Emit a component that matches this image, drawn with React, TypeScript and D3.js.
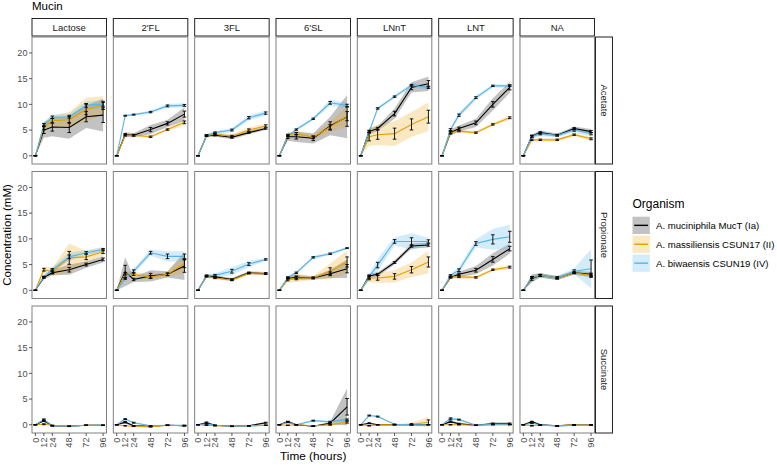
import * as d3 from 'd3';

const TIMES = [0, 12, 24, 48, 72, 96];
const SUBSTRATES = ['Lactose', "2'FL", '3FL', "6'SL", 'LNnT', 'LNT', 'NA'];
const ACIDS = ['Acetate', 'Propionate', 'Succinate'];
const ORGANISMS = ['A. muciniphila MucT (Ia)', 'A. massiliensis CSUN17 (II)', 'A. biwaensis CSUN19 (IV)'];
const LINE_COLORS = ['#000000', '#E69F00', '#56B4E9'];
const RIBBON_FILLS = ['rgba(0,0,0,0.24)', 'rgba(230,159,0,0.24)', 'rgba(86,180,233,0.26)'];
const Y_TICKS = [0, 5, 10, 15, 20];
const REPLICATES = 5;

// concentrations (mM), [substrate][organism][timepoint]
const acetateMean = [
  [[0, 5.0, 5.6, 5.5, 7.6, 7.9], [0, 5.5, 6.8, 7.0, 9.0, 9.8], [0, 6.0, 7.5, 7.6, 9.8, 10.0]],
  [[0, 4.1, 4.0, 5.1, 6.3, 8.1], [0, 4.0, 4.0, 3.7, 5.1, 6.5], [0, 7.8, 8.0, 8.5, 9.7, 9.8]],
  [[0, 3.9, 4.0, 3.6, 4.5, 5.3], [0, 3.9, 4.2, 3.8, 5.0, 5.8], [0, 4.0, 4.5, 5.0, 7.4, 8.3]],
  [[0, 3.7, 3.7, 3.4, 5.8, 7.6], [0, 4.0, 4.3, 3.6, 5.6, 7.7], [0, 3.8, 5.1, 7.2, 10.3, 9.8]],
  [[0, 4.7, 5.3, 8.2, 13.3, 14.0], [0, 3.7, 4.1, 4.3, 6.1, 7.6], [0, 4.7, 9.2, 11.5, 13.7, 13.3]],
  [[0, 4.5, 5.3, 6.4, 10.0, 13.3], [0, 4.5, 4.8, 4.5, 6.1, 7.4], [0, 5.1, 7.9, 11.3, 13.6, 13.6]],
  [[0, 3.8, 4.5, 4.0, 5.3, 4.7], [0, 3.1, 3.1, 3.1, 4.1, 3.3], [0, 3.8, 4.3, 4.0, 5.0, 4.3]],
];
const acetateSd = [
  [[0, 1.5, 1.8, 2.2, 2.2, 3.2], [0, 1.0, 1.0, 1.5, 2.3, 1.8], [0, 0.6, 0.5, 0.6, 0.8, 0.8]],
  [[0, 0.5, 0.4, 0.9, 0.7, 1.3], [0, 0.3, 0.3, 0.3, 0.3, 0.6], [0, 0.2, 0.2, 0.3, 0.4, 0.4]],
  [[0, 0.3, 0.3, 0.4, 0.3, 0.3], [0, 0.3, 0.4, 0.4, 0.5, 0.5], [0, 0.2, 0.3, 0.4, 0.5, 0.5]],
  [[0, 0.8, 1.0, 1.0, 1.8, 4.2], [0, 0.4, 0.5, 0.5, 1.0, 2.0], [0, 0.2, 0.3, 0.3, 0.6, 0.5]],
  [[0, 0.6, 0.5, 1.0, 1.0, 1.4], [0, 1.8, 2.0, 2.4, 2.4, 2.8], [0, 0.3, 0.3, 0.3, 0.4, 0.5]],
  [[0, 0.6, 0.6, 0.8, 1.2, 1.1], [0, 0.3, 0.3, 0.3, 0.3, 0.4], [0, 0.4, 0.5, 0.4, 0.3, 0.3]],
  [[0, 0.3, 0.4, 0.3, 0.4, 0.5], [0, 0.3, 0.3, 0.3, 0.3, 0.4], [0, 0.5, 0.5, 0.4, 0.5, 0.5]],
];

const propionateMean = [
  [[0, 2.5, 3.4, 4.0, 5.0, 6.0], [0, 4.0, 3.6, 6.3, 6.5, 7.5], [0, 2.6, 4.0, 6.5, 7.3, 7.9]],
  [[0, 3.6, 2.1, 2.8, 3.1, 4.7], [0, 3.2, 3.1, 2.6, 3.1, 5.2], [0, 2.3, 3.7, 7.3, 6.6, 6.6]],
  [[0, 2.8, 2.6, 2.1, 3.4, 3.2], [0, 2.7, 2.4, 2.0, 3.3, 3.3], [0, 2.8, 2.9, 3.7, 5.1, 6.0]],
  [[0, 2.3, 2.5, 2.4, 3.2, 4.2], [0, 2.1, 2.4, 2.4, 3.7, 5.5], [0, 2.5, 3.4, 6.4, 7.1, 8.2]],
  [[0, 2.8, 3.1, 5.4, 8.6, 8.8], [0, 2.4, 2.4, 2.7, 4.0, 5.5], [0, 2.6, 4.9, 9.5, 9.5, 9.5]],
  [[0, 2.5, 3.1, 3.9, 6.0, 8.1], [0, 2.6, 2.6, 2.5, 4.0, 4.5], [0, 2.9, 3.9, 9.1, 9.9, 10.4]],
  [[0, 2.3, 2.9, 2.4, 3.4, 3.1], [0, 2.5, 2.9, 2.4, 3.4, 2.9], [0, 2.5, 2.9, 2.4, 3.7, 4.2]],
];
const propionateSd = [
  [[0, 0.4, 0.5, 1.0, 0.6, 0.6], [0, 0.6, 0.8, 2.8, 1.2, 0.8], [0, 0.3, 0.5, 0.8, 0.5, 0.5]],
  [[0, 2.8, 0.5, 1.1, 0.6, 2.7], [0, 0.5, 0.5, 0.5, 0.5, 1.8], [0, 0.4, 0.6, 0.6, 1.0, 1.0]],
  [[0, 0.3, 0.3, 0.3, 0.3, 0.3], [0, 0.3, 0.3, 0.3, 0.3, 0.3], [0, 0.3, 0.4, 0.8, 0.6, 0.3]],
  [[0, 0.3, 0.5, 0.3, 0.8, 1.8], [0, 0.6, 0.8, 0.4, 1.5, 2.2], [0, 0.3, 0.3, 0.3, 0.3, 0.2]],
  [[0, 0.4, 0.4, 0.4, 0.5, 0.5], [0, 0.8, 1.0, 1.2, 1.4, 2.2], [0, 0.6, 1.2, 0.8, 1.6, 0.7]],
  [[0, 0.3, 0.5, 0.8, 1.2, 1.0], [0, 0.3, 0.3, 0.3, 0.3, 0.4], [0, 0.3, 0.6, 0.8, 2.0, 2.4]],
  [[0, 0.8, 0.4, 0.4, 0.4, 0.5], [0, 0.4, 0.4, 0.4, 0.3, 0.5], [0, 0.3, 0.4, 0.4, 0.6, 3.8]],
];

const succinateMean = [
  [[0, 0.8, -0.2, -0.3, -0.1, -0.1], [0, 0.1, -0.1, -0.3, -0.1, -0.1], [0, 1.0, -0.2, -0.3, -0.1, -0.1]],
  [[0, 0.5, -0.2, -0.3, -0.1, -0.2], [0, -0.2, -0.3, -0.4, -0.1, -0.2], [0, 1.1, 0.4, -0.2, -0.1, -0.1]],
  [[0, 0.4, -0.1, -0.3, -0.2, 0.4], [0, -0.1, -0.2, -0.3, -0.2, -0.1], [0, 0.2, -0.1, -0.3, -0.2, -0.1]],
  [[0, 0.6, 0.0, -0.3, 0.3, 3.5], [0, -0.1, 0.0, -0.2, 0.0, 0.5], [0, 0.5, 0.0, 0.8, 0.6, 1.0]],
  [[0, 0.3, 0.0, 0.0, 0.0, 0.0], [0, -0.2, 0.0, 0.0, 0.1, 0.5], [0, 1.8, 1.6, 0.1, 0.0, 0.0]],
  [[0, 0.6, 0.2, -0.1, 0.2, 0.2], [0, 0.0, 0.0, -0.1, 0.0, 0.0], [0, 1.2, 1.0, -0.1, 0.1, 0.1]],
  [[0, 0.6, 0.0, -0.2, 0.0, 0.0], [0, -0.2, -0.1, -0.2, 0.0, 0.0], [0, 0.3, 0.0, -0.3, -0.1, -0.1]],
];
const succinateSd = [
  [[0, 0.3, 0.1, 0.1, 0.1, 0.1], [0, 0.2, 0.1, 0.1, 0.1, 0.1], [0, 0.3, 0.1, 0.1, 0.1, 0.1]],
  [[0, 0.3, 0.1, 0.1, 0.1, 0.1], [0, 0.1, 0.1, 0.1, 0.1, 0.1], [0, 0.2, 0.2, 0.1, 0.1, 0.1]],
  [[0, 0.3, 0.1, 0.1, 0.1, 0.2], [0, 0.1, 0.1, 0.1, 0.1, 0.1], [0, 0.2, 0.1, 0.1, 0.1, 0.1]],
  [[0, 0.2, 0.1, 0.1, 0.3, 3.6], [0, 0.1, 0.1, 0.1, 0.2, 0.4], [0, 0.2, 0.1, 0.2, 0.2, 0.3]],
  [[0, 0.2, 0.1, 0.1, 0.1, 0.1], [0, 0.1, 0.1, 0.1, 0.3, 1.0], [0, 0.2, 0.2, 0.1, 0.1, 0.1]],
  [[0, 0.3, 0.2, 0.1, 0.3, 0.3], [0, 0.1, 0.1, 0.1, 0.1, 0.1], [0, 0.3, 0.2, 0.1, 0.1, 0.1]],
  [[0, 0.2, 0.1, 0.1, 0.1, 0.1], [0, 0.1, 0.1, 0.1, 0.1, 0.1], [0, 0.2, 0.1, 0.1, 0.1, 0.1]],
];

const MEANS = [acetateMean, propionateMean, succinateMean];
const SDS = [acetateSd, propionateSd, succinateSd];

const FONT = '"Liberation Sans", Arial, Helvetica, sans-serif';
const COL_X0 = 32;
const COL_STEP = 81.33;
const PANEL_W = 74.5;
const ROW_Y0 = 37;
const ROW_STEP = 134.5;
const PANEL_H = 127;
const STRIP_H = 17.5;
const STRIP_W = 17;

function Panel({ ai, si }: { ai: number; si: number }) {
  const x = d3.scaleLinear().domain([-4.8, 100.8]).range([0, PANEL_W]);
  const y = d3.scaleLinear().domain([-1.6, 23.1]).range([PANEL_H, 0]);
  const means = MEANS[ai][si];
  const sds = SDS[ai][si];

  const lineGen = d3
    .line<number>()
    .x((_, i) => x(TIMES[i]))
    .y((d) => y(d));

  // mean ± sd band
  const ribbon = (oi: number) =>
    d3
      .area<number>()
      .x((_, i) => x(TIMES[i]))
      .y0((d, i) => y(d - sds[oi][i]))
      .y1((d, i) => y(d + sds[oi][i]))(means[oi]);

  const cap = 1.8;

  return (
    <g clipPath="url(#panel-clip)">
      {means.map((_, oi) => (
        <path key={`r${oi}`} d={ribbon(oi) || ''} fill={RIBBON_FILLS[oi]} stroke="none" />
      ))}
      {means.map((m, oi) => (
        <path key={`l${oi}`} d={lineGen(m) || ''} fill="none" stroke={LINE_COLORS[oi]} strokeWidth={1.1} />
      ))}
      {/* standard error bars */}
      {means.map((m, oi) =>
        m.map((v, i) => {
          const se = sds[oi][i] / Math.sqrt(REPLICATES);
          const cx = x(TIMES[i]);
          const lo = y(v - se);
          const hi = y(v + se);
          return (
            <g key={`e${oi}-${i}`} stroke="#000" strokeWidth={0.9}>
              <line x1={cx} x2={cx} y1={lo} y2={hi} />
              <line x1={cx - cap} x2={cx + cap} y1={lo} y2={lo} />
              <line x1={cx - cap} x2={cx + cap} y1={hi} y2={hi} />
            </g>
          );
        })
      )}
    </g>
  );
}

export default function App() {
  const x = d3.scaleLinear().domain([-4.8, 100.8]).range([0, PANEL_W]);
  const y = d3.scaleLinear().domain([-1.6, 23.1]).range([PANEL_H, 0]);
  const lastCol = COL_X0 + (SUBSTRATES.length - 1) * COL_STEP + PANEL_W;
  const bottomRow = ROW_Y0 + (ACIDS.length - 1) * ROW_STEP + PANEL_H;
  const plotMidX = (COL_X0 + lastCol) / 2;
  const plotMidY = (ROW_Y0 + bottomRow) / 2;

  return (
    <svg
      width={777}
      height={465}
      style={{ position: 'absolute', left: 0, top: 0, background: '#fff' }}
      fontFamily={FONT}
    >
      <defs>
        <clipPath id="panel-clip">
          <rect x={0} y={0} width={PANEL_W} height={PANEL_H} />
        </clipPath>
      </defs>

      <text x={COL_X0} y={10} fontSize={11.5} fill="#000">
        Mucin
      </text>

      {/* column strips */}
      {SUBSTRATES.map((s, si) => {
        const px = COL_X0 + si * COL_STEP;
        return (
          <g key={s}>
            <rect x={px} y={ROW_Y0 - STRIP_H - 1} width={PANEL_W} height={STRIP_H} fill="#fff" stroke="#222" strokeWidth={1} />
            <text x={px + PANEL_W / 2} y={ROW_Y0 - 1 - STRIP_H / 2} dy="0.35em" textAnchor="middle" fontSize={9.5} fill="#1a1a1a">
              {s}
            </text>
          </g>
        );
      })}

      {/* row strips */}
      {ACIDS.map((a, ai) => {
        const py = ROW_Y0 + ai * ROW_STEP;
        const sx = lastCol + 1;
        return (
          <g key={a}>
            <rect x={sx} y={py} width={STRIP_W} height={PANEL_H} fill="#fff" stroke="#222" strokeWidth={1} />
            <text
              transform={`translate(${sx + STRIP_W / 2},${py + PANEL_H / 2}) rotate(90)`}
              dy="0.35em"
              textAnchor="middle"
              fontSize={9.5}
              fill="#1a1a1a"
            >
              {a}
            </text>
          </g>
        );
      })}

      {ACIDS.map((a, ai) =>
        SUBSTRATES.map((s, si) => {
          const px = COL_X0 + si * COL_STEP;
          const py = ROW_Y0 + ai * ROW_STEP;
          return (
            <g key={`${a}-${s}`} transform={`translate(${px},${py})`}>
              <rect width={PANEL_W} height={PANEL_H} fill="#fff" />
              <Panel ai={ai} si={si} />
              <rect width={PANEL_W} height={PANEL_H} fill="none" stroke="#808080" strokeWidth={1} />
              {si === 0 &&
                Y_TICKS.map((t) => (
                  <g key={t} transform={`translate(0,${y(t)})`}>
                    <line x1={-3} x2={0} stroke="#333" strokeWidth={0.8} />
                    <text x={-4.5} dy="0.35em" textAnchor="end" fontSize={9.2} fill="#4d4d4d">
                      {t}
                    </text>
                  </g>
                ))}
              {ai === ACIDS.length - 1 &&
                TIMES.map((t) => (
                  <g key={t} transform={`translate(${x(t)},${PANEL_H})`}>
                    <line y1={0} y2={3} stroke="#333" strokeWidth={0.8} />
                    <text transform="translate(0,4.5) rotate(-90)" dy="0.35em" textAnchor="end" fontSize={9.2} fill="#4d4d4d">
                      {t}
                    </text>
                  </g>
                ))}
            </g>
          );
        })
      )}

      <text transform={`translate(11,${plotMidY}) rotate(-90)`} textAnchor="middle" fontSize={11.5} fill="#000">
        Concentration (mM)
      </text>
      <text x={plotMidX} y={460} textAnchor="middle" fontSize={11.8} fill="#000">
        Time (hours)
      </text>

      {/* legend */}
      <g transform="translate(632.5,0)">
        <text x={0} y={207.5} fontSize={12} fill="#000">
          Organism
        </text>
        {ORGANISMS.map((o, oi) => {
          const ky = 216.7 + oi * 18.9;
          return (
            <g key={o}>
              <rect x={0} y={ky} width={17.3} height={17.3} fill={RIBBON_FILLS[oi]} />
              <line x1={1.7} x2={15.6} y1={ky + 8.65} y2={ky + 8.65} stroke={LINE_COLORS[oi]} strokeWidth={1.4} />
              <text x={23.5} y={ky + 8.65} dy="0.35em" fontSize={9.6} fill="#000">
                {o}
              </text>
            </g>
          );
        })}
      </g>
    </svg>
  );
}
